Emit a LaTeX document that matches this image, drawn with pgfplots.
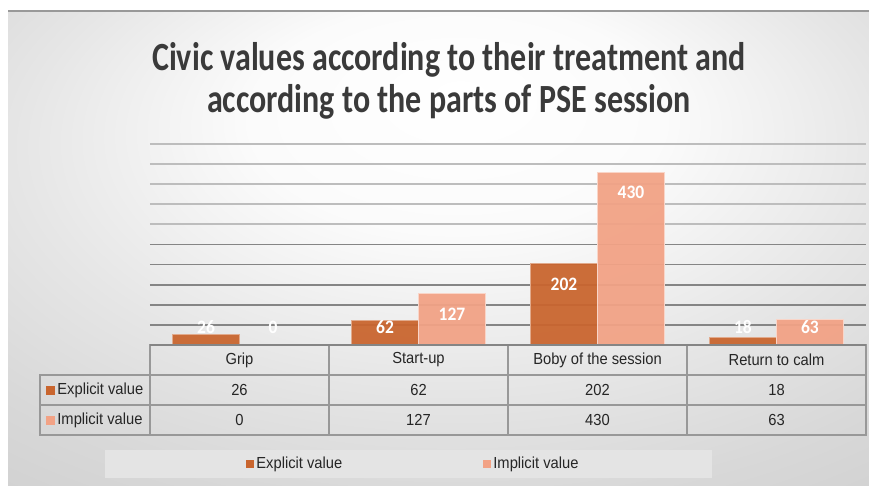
\documentclass[border=0pt]{standalone}
\usepackage{fontspec}
\setmainfont{Liberation Sans}
\newfontfamily\titlefont[FakeStretch=0.8]{Carlito}
\newfontfamily\tabfont[FakeStretch=0.92]{Liberation Sans}
\newfontfamily\lblfont[FakeStretch=0.92]{Carlito}
\usepackage{pgfplots}
\usepackage{pgfplotstable}
\pgfplotsset{compat=1.18}
\definecolor{expc}{HTML}{C9652E}
\definecolor{impc}{HTML}{F2A285}
\definecolor{griddark}{HTML}{858585}
\definecolor{gridlight}{HTML}{BDBDBD}
\definecolor{tabline}{HTML}{989898}
\definecolor{titlec}{HTML}{3A3A3A}
\definecolor{bgA}{HTML}{FBFBFB}
\definecolor{bgB}{HTML}{E6E6E6}
\definecolor{bgC}{HTML}{D8D8D8}
\definecolor{bgD}{HTML}{C9C9C9}
\definecolor{bgE}{HTML}{C3C3C3}
\definecolor{legbg}{HTML}{E4E4E4}
\pgfdeclareradialshading{panel}{\pgfpoint{1.3bp}{16.5bp}}{%
  color(0bp)=(white); color(12bp)=(bgA); color(25bp)=(bgB);
  color(35bp)=(bgC); color(50bp)=(bgD); color(70bp)=(bgE)}

\pgfplotstableread{
x exp imp
0 26  0
1 62  127
2 202 430
3 18  63
}\datatable

\begin{document}
\begin{tikzpicture}
\begin{scope}[x=0.5pt,y=0.5pt]
\path[use as bounding box, fill=white] (0,0) rectangle (869,486);
\shade[shading=panel] (8,0) rectangle (869,475);
\draw[gray!80, line width=0.6pt] (8,475) -- (869,475);

% title
\node[font=\titlefont\bfseries\fontsize{20}{24}\selectfont, text=titlec] at (449,426)
  {Civic values according to their treatment and};
\node[font=\titlefont\bfseries\fontsize{20}{24}\selectfont, text=titlec] at (449,384)
  {according to the parts of PSE session};
\end{scope}

\begin{axis}[
  at={(75pt,70.5pt)}, anchor=south west,
  scale only axis, width=358pt, height=100.5pt,
  xmin=-0.5, xmax=3.5, ymin=0, ymax=500,
  axis line style={draw=none},
  xtick=\empty,
  ytick={50,100,...,250}, yticklabels={},
  extra y ticks={300,350,400,450,500}, extra y tick labels={},
  extra y tick style={grid style={gridlight, line width=0.9pt}},
  major tick length=0pt,
  ymajorgrids, grid style={griddark, line width=0.9pt},
  clip=false,
  point meta=explicit symbolic,
  nodes near coords,
  nodes near coords style={font=\lblfont\bfseries\fontsize{9.5}{10}\selectfont,
    text=white, text opacity=1, anchor=center},
]
\addplot[ybar, bar width=33.5pt, bar shift=-16.75pt, fill=expc, draw=expc!55!white,
  line width=0.5pt, fill opacity=0.94,
  visualization depends on={\thisrow{exp} \as \v},
  every node near coord/.append style={xshift=-16.75pt,
    yshift={(max(\v-50,44)-\v)*0.201pt}}]
  table[x=x, y=exp, meta=exp] {\datatable};
\addplot[ybar, bar width=33.5pt, bar shift=16.75pt, fill=impc, draw=impc!45!white,
  line width=0.5pt, fill opacity=0.94,
  visualization depends on={\thisrow{imp} \as \v},
  every node near coord/.append style={xshift=16.75pt,
    yshift={(max(\v-50,44)-\v)*0.201pt}}]
  table[x=x, y=imp, meta=imp] {\datatable};
\end{axis}

\begin{scope}[x=0.5pt,y=0.5pt]
% data table
\begin{scope}[tabline, line width=0.8pt]
\draw (150,141) rectangle (866,51);
\draw (40,111) rectangle (150,51);
\draw (40,81) -- (866,81);
\draw (150,111) -- (866,111);
\foreach \cx in {329,508,687} \draw (\cx,141) -- (\cx,51);
\end{scope}
\draw[griddark, line width=0.9pt] (150,141) -- (866,141);

\begin{scope}[every node/.style={font=\tabfont\fontsize{8}{9}\selectfont, text=black!85}]
\node at (239.5,126) {Grip};
\node at (418.5,126) {Start-up};
\node at (597.5,126) {Boby of the session};
\node at (776.5,126) {Return to calm};
\node at (239.5,96) {26};
\node at (418.5,96) {62};
\node at (597.5,96) {202};
\node at (776.5,96) {18};
\node at (239.5,66) {0};
\node at (418.5,66) {127};
\node at (597.5,66) {430};
\node at (776.5,66) {63};
\fill[expc] (46,91) rectangle (55,100);
\fill[impc] (46,61) rectangle (55,70);
\node[anchor=west, inner sep=0pt] at (57,96) {Explicit value};
\node[anchor=west, inner sep=0pt] at (57,66) {Implicit value};
\end{scope}

% legend
\fill[legbg] (105,8) rectangle (712,36);
\begin{scope}[every node/.style={font=\tabfont\fontsize{8}{9}\selectfont, text=black!85}]
\fill[expc] (246,18) rectangle (254,26);
\node[anchor=west, inner sep=0pt] at (256,22) {Explicit value};
\fill[impc] (483,18) rectangle (491,26);
\node[anchor=west, inner sep=0pt] at (493,22) {Implicit value};
\end{scope}
\end{scope}
\end{tikzpicture}
\end{document}
